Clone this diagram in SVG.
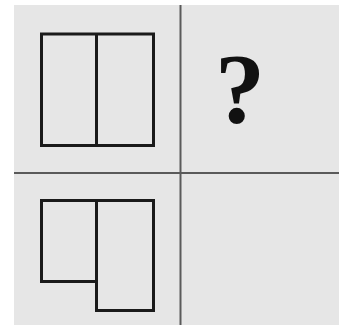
<svg xmlns="http://www.w3.org/2000/svg" width="339" height="325" viewBox="0 0 339 325">
<style>
.fig{fill:none;stroke:#1a1a1a;stroke-width:3}
.axis{stroke:#5a5a5a;stroke-width:2}
</style>
<rect x="0" y="0" width="339" height="325" fill="#ffffff"/>
<rect x="14" y="5" width="325" height="320" fill="#e6e6e6"/>
<g id="axes">
<line class="axis" x1="14" y1="173" x2="339" y2="173"/>
<line class="axis" x1="180.5" y1="5" x2="180.5" y2="325"/>
</g>
<g id="top-figure">
<rect class="fig" x="41.5" y="34" width="112" height="111.5"/>
<line class="fig" x1="96.5" y1="34" x2="96.5" y2="145.5"/>
</g>
<g id="bottom-figure">
<rect class="fig" x="41.5" y="200.5" width="55" height="81"/>
<rect class="fig" x="96.5" y="200.5" width="57" height="110"/>
</g>
<g id="question">
<text x="240" y="122" text-anchor="middle" font-family="Liberation Serif, serif" font-weight="bold" font-size="100" fill="#111">?</text>
</g>
</svg>
